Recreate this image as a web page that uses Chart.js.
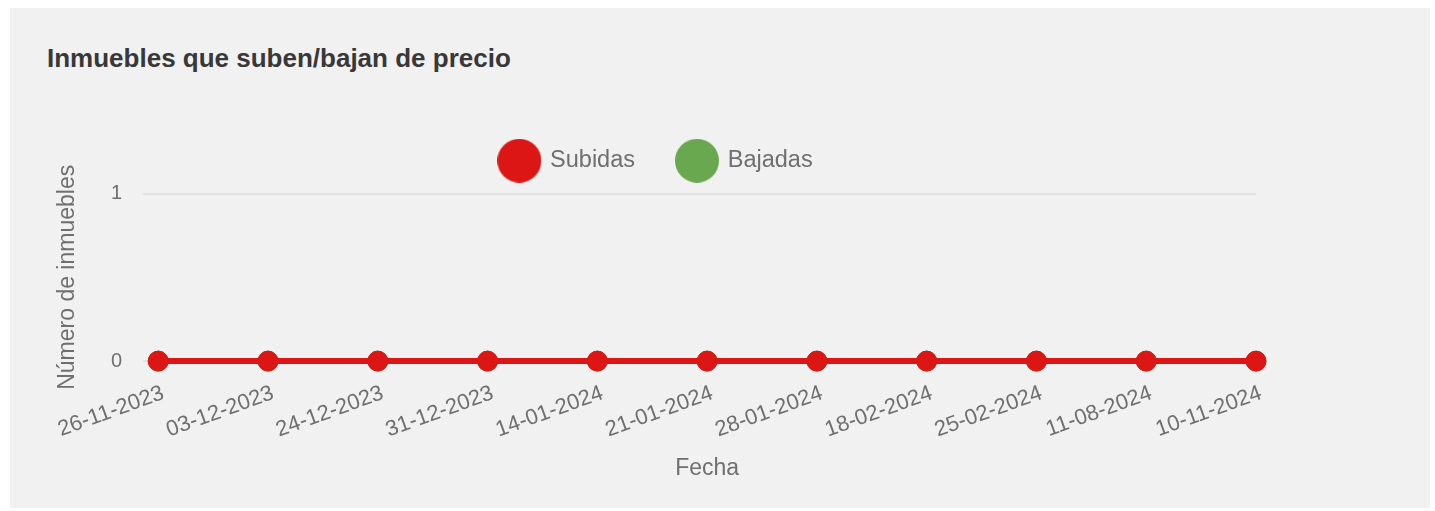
<!DOCTYPE html>
<html lang="es">
<head>
<meta charset="utf-8">
<title>Inmuebles que suben/bajan de precio</title>
<script src="https://cdn.jsdelivr.net/npm/chart.js@4.4.1/dist/chart.umd.min.js"></script>
<style>
  body { margin: 0; background: #fff; font-family: "Liberation Sans", Arial, sans-serif; }
  .tarjeta { position: absolute; left: 10px; top: 8px; width: 1420px; height: 500px; background: #f1f1f1; }
  .tarjeta h2 { position: absolute; left: 37px; top: 35px; margin: 0; font-size: 26px; line-height: 30px; font-weight: bold; color: #383838; }
  #grafico { position: absolute; left: 33px; top: 98px; }
</style>
</head>
<body>
<div class="tarjeta">
  <h2>Inmuebles que suben/bajan de precio</h2>
  <canvas id="grafico" width="1267" height="380"></canvas>
</div>
<script>
// Fechas de cada registro
const fechas = ['26-11-2023', '03-12-2023', '24-12-2023', '31-12-2023', '14-01-2024', '21-01-2024',
                '28-01-2024', '18-02-2024', '25-02-2024', '11-08-2024', '10-11-2024'];
// Inmuebles que suben y bajan de precio en cada fecha
const subidas = [0, 0, 0, 0, 0, 0, 0, 0, 0, 0, 0];
const bajadas = [0, 0, 0, 0, 0, 0, 0, 0, 0, 0, 0];
// Marcas del eje vertical
const ejeYMin = 0;
const ejeYMax = 1;

const rojo = '#dc1515';
const verde = '#69a84f';

Chart.defaults.font.family = '"Liberation Sans", Arial, sans-serif';
Chart.defaults.color = '#6f6f6f';

// Círculo grande para la leyenda
function circuloLeyenda(color) {
  const c = document.createElement('canvas');
  c.width = 44;
  c.height = 44;
  const ctx = c.getContext('2d');
  ctx.fillStyle = color;
  ctx.beginPath();
  ctx.arc(22, 22, 22, 0, Math.PI * 2);
  ctx.fill();
  return c;
}

// Más aire bajo la leyenda y la leyenda un poco más a la derecha
const ajusteLeyenda = {
  id: 'ajusteLeyenda',
  beforeInit(chart) {
    const fitOriginal = chart.legend.fit;
    chart.legend.fit = function () {
      fitOriginal.call(this);
      this.height += 11;
    };
  },
  afterLayout(chart) {
    chart.legend.left += 7;
    chart.legend.right += 7;
  }
};

new Chart(document.getElementById('grafico'), {
  type: 'line',
  data: {
    labels: fechas,
    datasets: [{
      label: 'Subidas',
      data: subidas,
      borderColor: rojo,
      backgroundColor: rojo,
      pointBackgroundColor: rojo,
      borderWidth: 6,
      pointRadius: 10,
      pointBorderWidth: 1,
      clip: false
    }, {
      label: 'Bajadas',
      data: bajadas,
      borderColor: verde,
      backgroundColor: verde,
      pointBackgroundColor: verde,
      borderWidth: 6,
      pointRadius: 10,
      pointBorderWidth: 1,
      clip: false
    }]
  },
  options: {
    responsive: false,
    animation: false,
    layout: { padding: { right: 54 } },
    plugins: {
      legend: {
        labels: {
          usePointStyle: true,
          boxHeight: 23.5,
          pointStyleWidth: 38,
          padding: 43,
          font: { size: 23.5 },
          generateLabels: function (chart) {
            const items = Chart.defaults.plugins.legend.labels.generateLabels(chart);
            items.forEach(item => { item.pointStyle = circuloLeyenda(item.fillStyle); });
            return items;
          }
        }
      },
      tooltip: { enabled: false }
    },
    scales: {
      x: {
        grid: { display: false },
        border: { display: false },
        ticks: { font: { size: 22 }, minRotation: 20, maxRotation: 20, padding: 11, labelOffset: 5 },
        title: { display: true, text: 'Fecha', font: { size: 23 }, padding: { top: 0, bottom: 4 } }
      },
      y: {
        min: ejeYMin,
        max: ejeYMax,
        grid: { color: '#e3e3e3', lineWidth: 2, tickLength: 15 },
        border: { display: false },
        ticks: { stepSize: 1, font: { size: 20 }, padding: 21 },
        title: { display: true, text: 'Número de inmuebles', font: { size: 23 }, padding: { top: 4, bottom: 9 } }
      }
    }
  },
  plugins: [ajusteLeyenda]
});
</script>
</body>
</html>
